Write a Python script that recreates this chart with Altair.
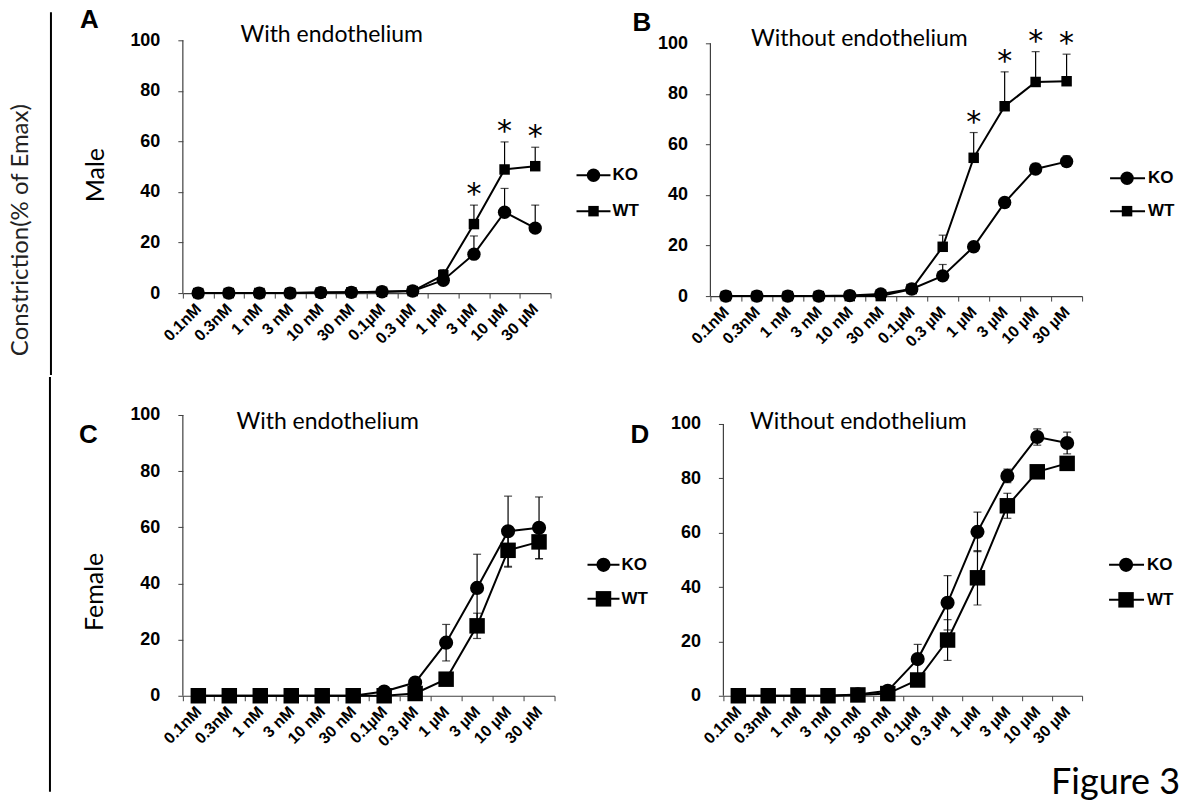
import altair as alt
import pandas as pd

labels = ["0.1nM", "0.3nM", "1 nM", "3 nM", "10 nM", "30 nM",
          "0.1\u00b5M", "0.3 \u00b5M", "1 \u00b5M", "3 \u00b5M", "10 \u00b5M", "30 \u00b5M"]

# Panel A: male, with endothelium
A_KO = [0, 0, 0, 0, 0.2, 0.3, 0.5, 0.8, 5.1, 15.4, 32.0, 25.7]
A_KO_err = [0, 0, 0, 0, 0, 0, 0, 0, 1.5, 7.2, 9.4, 9.1]
A_WT = [0, 0, 0, 0, 0.2, 0.3, 0.5, 0.8, 7.1, 27.3, 48.9, 50.2]
A_WT_err = [0, 0, 0, 0, 0, 0, 0, 0, 2.2, 7.5, 10.9, 7.5]
A_stars = [9, 10, 11]

# Panel B: male, without endothelium
B_KO = [0, 0, 0, 0, 0.2, 0.8, 2.8, 8.0, 19.5, 37.0, 50.3, 53.2]
B_KO_err = [0, 0, 0, 0, 0, 0, 0, 4.5, 0, 0, 2.2, 2.3]
B_WT = [0, 0, 0, 0, 0, 0, 2.8, 19.5, 54.7, 75.1, 84.7, 85.0]
B_WT_err = [0, 0, 0, 0, 0, 0, 0, 4.6, 10.0, 13.6, 12.0, 10.7]
B_stars = [8, 9, 10, 11]

# Panel C: female, with endothelium
C_KO = [0, 0, 0, 0, 0, 0, 1.5, 4.7, 18.9, 38.4, 58.6, 59.8]
C_KO_err = [0, 0, 0, 0, 0, 0, 0, 0, 6.5, 12.0, 12.5, 11.0]
C_WT = [0, 0, 0, 0, 0, 0, 0, 0.8, 5.9, 24.9, 51.8, 54.8]
C_WT_err = [0, 0, 0, 0, 0, 0, 0, 0, 0, 4.5, 6.0, 6.0]

# Panel D: female, without endothelium
D_KO = [0, 0, 0, 0, 0.5, 1.8, 13.5, 34.2, 60.3, 80.9, 95.2, 93.0]
D_KO_err = [0, 0, 0, 0, 0, 0, 5.4, 10.0, 7.3, 2.5, 3.0, 4.0]
D_WT = [0, 0, 0, 0, 0.3, 0.8, 5.8, 20.5, 43.4, 69.9, 82.4, 85.5]
D_WT_err = [0, 0, 0, 0, 0, 0, 0, 7.5, 10.0, 4.6, 1.5, 2.0]

y_ticks = [0, 20, 40, 60, 80, 100]

TXT_FONT = "Lato"
NUM_FONT = "Liberation Sans"
one = pd.DataFrame({"k": [0]})
axis_span = pd.DataFrame({"y0": [y_ticks[0]], "y1": [y_ticks[-1]]})


def build_df(ko, eko, wt, ewt, both):
    rows = []
    for name, vals, errs in (("KO", ko, eko), ("WT", wt, ewt)):
        for lab, v, e in zip(labels, vals, errs):
            rows.append({"dose": lab, "series": name, "v": v, "e": e,
                         "lo": v - e if both else v, "hi": v + e})
    return pd.DataFrame(rows)


xaxis = alt.Axis(title=None, labelAngle=-45, labelAlign="right", labelBaseline="middle",
                 labelFont=NUM_FONT, labelFontWeight="bold", labelFontSize=16,
                 labelColor="black", labelPadding=8, labelOverlap=False,
                 tickBand="extent", tickSize=5, tickColor="#404040",
                 domainColor="#404040", domainWidth=1.2, grid=False)
yaxis = alt.Axis(title=None, values=y_ticks, labelFont=NUM_FONT, domain=False,
                 labelFontWeight="bold", labelFontSize=18, labelColor="black",
                 labelPadding=18, tickSize=5, tickColor="#404040", grid=False)


def X():
    return alt.X("dose:N", sort=labels,
                 scale=alt.Scale(type="band", paddingInner=0, paddingOuter=0), axis=xaxis)


def txt(text, x, y, size, font=TXT_FONT, weight="normal", align="left",
        baseline="alphabetic", angle=0, color="black"):
    return alt.Chart(one).mark_text(text=text, fontSize=size, font=font, fontWeight=weight,
                                    align=align, baseline=baseline, angle=angle,
                                    color=color).encode(x=alt.value(x), y=alt.value(y))


def hline(x1, x2, y, w=2):
    return alt.Chart(one).mark_rule(color="black", strokeWidth=w).encode(
        x=alt.value(x1), x2=alt.value(x2), y=alt.value(y))


def vline(x, y1, y2, w=2):
    return alt.Chart(one).mark_rule(color="black", strokeWidth=w).encode(
        x=alt.value(x), y=alt.value(y1), y2=alt.value(y2))


def marker(shape, size, x, y):
    return alt.Chart(one).mark_point(shape=shape, size=size, filled=True, color="black",
                                     opacity=1).encode(x=alt.value(x), y=alt.value(y))


def box(x1, x2, y1, y2):
    return alt.Chart(one).mark_rect(opacity=0).encode(
        x=alt.value(x1), x2=alt.value(x2), y=alt.value(y1), y2=alt.value(y2))


def legend(x1, x2, xm, xt, y1, y2, csize, ssize):
    return [hline(x1, x2, y1), marker("circle", csize, xm, y1),
            txt("KO", xt, y1, 17, font=NUM_FONT, weight="bold", baseline="middle"),
            hline(x1, x2, y2), marker("square", ssize, xm, y2),
            txt("WT", xt, y2, 17, font=NUM_FONT, weight="bold", baseline="middle")]


def panel(ko, eko, wt, ewt, both, stars, w, h, dmax, csize, ssize, extras):
    def Y(field):
        return alt.Y(field, scale=alt.Scale(domain=[0, dmax], nice=False), axis=yaxis)

    df = build_df(ko, eko, wt, ewt, both)
    errdf = df[df["e"] > 0]
    yline = alt.Chart(axis_span).mark_rule(color="#404040", strokeWidth=1.2).encode(
        x=alt.value(0), y=Y("y0:Q"), y2="y1:Q")
    line = alt.Chart(df).mark_line(color="black", strokeWidth=2).encode(
        x=X(), y=Y("v:Q"), detail="series:N")
    ebar = alt.Chart(errdf).mark_rule(color="black", strokeWidth=1.2).encode(
        x=X(), y=Y("lo:Q"), y2="hi:Q")
    caps = [alt.Chart(errdf).mark_tick(color="black", size=8, thickness=1.2).encode(
        x=X(), y=Y("hi:Q"))]
    if both:
        caps.append(alt.Chart(errdf).mark_tick(color="black", size=8, thickness=1.2).encode(
            x=X(), y=Y("lo:Q")))
    ko_pts = alt.Chart(df[df["series"] == "KO"]).mark_point(
        shape="circle", size=csize, filled=True, color="black", opacity=1).encode(x=X(), y=Y("v:Q"))
    wt_pts = alt.Chart(df[df["series"] == "WT"]).mark_point(
        shape="square", size=ssize, filled=True, color="black", opacity=1).encode(x=X(), y=Y("v:Q"))
    layers = extras[:1] + [yline, line, ebar] + caps + [ko_pts, wt_pts]
    if stars:
        sdf = df[(df["series"] == "WT") & (df["dose"].isin([labels[i] for i in stars]))]
        layers.append(alt.Chart(sdf).mark_text(text="*", fontSize=30, font="DejaVu Sans",
                                               color="black", baseline="alphabetic",
                                               dy=-1).encode(x=X(), y=Y("hi:Q")))
    layers += extras[1:]
    return alt.layer(*layers).properties(width=w, height=h)


ROW = 375
TOP1 = 40    # plot top of row 1 (canvas)
TOP2 = 413   # plot top of row 2 (canvas)

# Panel A: plot origin (182, 40)
exA = [box(-182, 652 - 182, -TOP1, ROW - TOP1),
       vline(-132, 12 - TOP1, ROW - TOP1),
       txt("Constriction(% of Emax)", -162, 190, 24, align="center", baseline="middle",
           angle=270, color="#222222"),
       txt("Male", -87, 135, 25, align="center", baseline="middle", angle=270),
       txt("A", -103, -12, 26, font=NUM_FONT, weight="bold"),
       txt("B", 450, -9, 26, font=NUM_FONT, weight="bold"),
       txt("With endothelium", 149, 2, 23, align="center")] + legend(394, 428, 411, 430, 135, 171, 180, 110)
pA = panel(A_KO, A_KO_err, A_WT, A_WT_err, False, A_stars, 368, 253, 100, 180, 110, exA)

# Panel B: plot origin (710, 40); data 100 at y=43, 0 at y=296
exB = [box(652 - 710, 1188 - 710, -TOP1, ROW - TOP1),
       txt("Without endothelium", 149, 6, 23, align="center")] + legend(400, 435, 417, 438, 138, 171, 180, 110)
pB = panel(B_KO, B_KO_err, B_WT, B_WT_err, False, B_stars, 372, 256, 100 * 256 / 253, 180, 110, exB)

# Panel C: plot origin (183, 413)
exC = [box(-183, 660 - 183, ROW - TOP2, 800 - TOP2),
       vline(-133, ROW - TOP2, 790 - TOP2),
       txt("Female", -88, 177, 25, align="center", baseline="middle", angle=270),
       txt("C", -104, 28, 26, font=NUM_FONT, weight="bold"),
       txt("D", 448, 28, 26, font=NUM_FONT, weight="bold"),
       txt("With endothelium", 145, 14, 23, align="center")] + legend(405, 437, 421, 439, 150, 184, 200, 240)
pC = panel(C_KO, C_KO_err, C_WT, C_WT_err, True, [], 372, 281, 100, 200, 240, exC)

# Panel D: plot origin (724, 413); data 100 at y=422, 0 at y=694
exD = [box(660 - 724, 1188 - 724, ROW - TOP2, 800 - TOP2),
       txt("Without endothelium", 135, 14, 23, align="center"),
       txt("Figure 3", 328, 379, 36)] + legend(386, 421, 403, 424, 150, 185, 200, 240)
pD = panel(D_KO, D_KO_err, D_WT, D_WT_err, True, [], 359, 281, 100 * 281 / 272, 200, 240, exD)

chart = alt.vconcat(
    alt.hconcat(pA, pB, spacing=0),
    alt.hconcat(pC, pD, spacing=0),
    spacing=0,
).properties(padding=0, background="white").configure_view(stroke=None)

chart.save("out.html", embed_options={"renderer": "svg", "actions": False})
